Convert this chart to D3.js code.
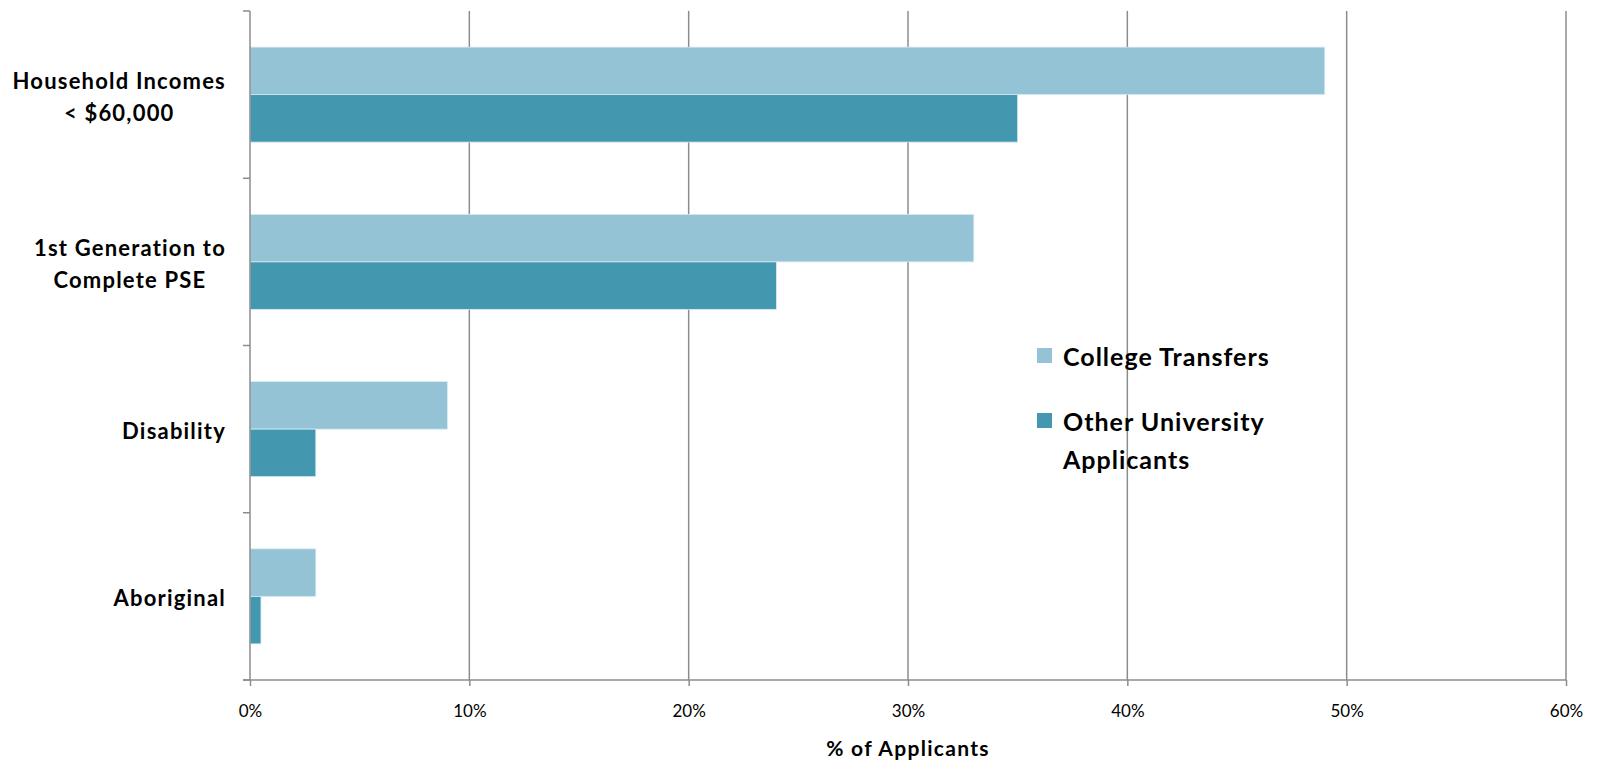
<!DOCTYPE html>
<html>
<head>
<meta charset="utf-8">
<script src="https://cdn.jsdelivr.net/npm/d3@7"></script>
<style>
  body { margin: 0; background: #fff; }
  text { font-family: Lato, "Open Sans", sans-serif; fill: #000; }
</style>
</head>
<body>
<script>
// data
var categories = ["Household Incomes\n< $60,000", "1st Generation to\nComplete PSE", "Disability", "Aboriginal"];
var seriesNames = ["College Transfers", "Other University\nApplicants"];
var collegeTransfers = [49, 33, 9, 3];
var otherApplicants = [35, 24, 3, 0.5];
var xTicks = [0, 10, 20, 30, 40, 50, 60];
var colors = ["#93c3d5", "#4398b0"];

var width = 1600, height = 760;
var margin = {top: 11, right: 34, bottom: 80, left: 250};

var svg = d3.select("body").append("svg")
  .attr("width", width)
  .attr("height", height);

var x = d3.scaleLinear().domain([0, 60]).range([margin.left, width - margin.right]);
var y = d3.scaleBand().domain(categories)
  .range([margin.top, height - margin.bottom])
  .paddingInner(0.432).paddingOuter(0.216);
var ySub = d3.scaleBand().domain([0, 1]).range([0, y.bandwidth()]);

var gridColor = "#8c8c8c";

// vertical gridlines
svg.selectAll("line.grid")
  .data(xTicks.slice(1))
  .enter().append("line")
  .attr("class", "grid")
  .attr("x1", function(d) { return x(d); })
  .attr("x2", function(d) { return x(d); })
  .attr("y1", margin.top)
  .attr("y2", height - margin.bottom)
  .attr("stroke", gridColor)
  .attr("stroke-width", 1.5);

// bars
var rows = categories.map(function(c, i) {
  return {cat: c, vals: [collegeTransfers[i], otherApplicants[i]]};
});
var groups = svg.selectAll("g.row")
  .data(rows)
  .enter().append("g")
  .attr("class", "row")
  .attr("transform", function(d) { return "translate(0," + y(d.cat) + ")"; });

groups.selectAll("rect")
  .data(function(d) { return d.vals; })
  .enter().append("rect")
  .attr("x", x(0))
  .attr("y", function(d, i) { return ySub(i); })
  .attr("width", function(d) { return x(d) - x(0); })
  .attr("height", ySub.bandwidth())
  .attr("fill", function(d, i) { return colors[i]; })
  .attr("stroke", "#d6ebf2")
  .attr("stroke-width", 0.8);

// x axis
var xAxis = d3.axisBottom(x)
  .tickValues(xTicks)
  .tickFormat(function(d) { return d + "%"; })
  .tickSize(6)
  .tickPadding(19);
var gx = svg.append("g")
  .attr("transform", "translate(0," + (height - margin.bottom) + ")")
  .call(xAxis);
gx.select(".domain").remove();
gx.selectAll(".tick line").attr("stroke", gridColor).attr("stroke-width", 1.5);
gx.selectAll(".tick text")
  .style("font-family", "Lato, sans-serif")
  .style("font-size", "17px")
  .attr("fill", "#000");

// axis lines
svg.append("line")
  .attr("x1", x(0) - 7).attr("x2", x(60))
  .attr("y1", height - margin.bottom).attr("y2", height - margin.bottom)
  .attr("stroke", gridColor).attr("stroke-width", 1.5);
svg.append("line")
  .attr("x1", x(0)).attr("x2", x(0))
  .attr("y1", margin.top).attr("y2", height - margin.bottom)
  .attr("stroke", gridColor).attr("stroke-width", 1.5);

// category boundary ticks on y axis
var boundaries = d3.range(categories.length + 1).map(function(i) {
  return margin.top + i * y.step();
});
svg.selectAll("line.ytick")
  .data(boundaries)
  .enter().append("line")
  .attr("class", "ytick")
  .attr("x1", x(0) - 7).attr("x2", x(0))
  .attr("y1", function(d) { return d; })
  .attr("y2", function(d) { return d; })
  .attr("stroke", gridColor).attr("stroke-width", 1.5);

// category labels, lines centred on each other, block right-aligned
var labelRight = 226;
var lineH = 32;
categories.forEach(function(c) {
  var lines = c.split("\n");
  var t = svg.append("text")
    .attr("text-anchor", "middle")
    .style("font-size", "22px")
    .style("font-weight", "bold")
    .style("letter-spacing", "1.2px");
  var cy = y(c) + y.bandwidth() / 2;
  lines.forEach(function(l, j) {
    t.append("tspan")
      .attr("y", cy + (j - (lines.length - 1) / 2) * lineH + 10)
      .text(l);
  });
  var maxW = 0;
  t.selectAll("tspan").each(function() {
    maxW = Math.max(maxW, this.getComputedTextLength());
  });
  t.selectAll("tspan").attr("x", labelRight - maxW / 2);
});

// x axis title
svg.append("text")
  .attr("x", (x(0) + x(60)) / 2)
  .attr("y", 756)
  .attr("text-anchor", "middle")
  .style("font-size", "21px")
  .style("font-weight", "bold")
  .style("letter-spacing", "1.3px")
  .text("% of Applicants");

// legend
var legendX = 1037;
var legendY = [348, 413];
seriesNames.forEach(function(name, i) {
  svg.append("rect")
    .attr("x", legendX)
    .attr("y", legendY[i])
    .attr("width", 15)
    .attr("height", 15)
    .attr("fill", colors[i]);
  var t = svg.append("text")
    .style("font-size", "25px")
    .style("font-weight", "bold")
    .style("letter-spacing", "1px");
  name.split("\n").forEach(function(l, j) {
    t.append("tspan")
      .attr("x", legendX + 26)
      .attr("y", legendY[i] + 18 + j * 38)
      .text(l);
  });
});
</script>
</body>
</html>
